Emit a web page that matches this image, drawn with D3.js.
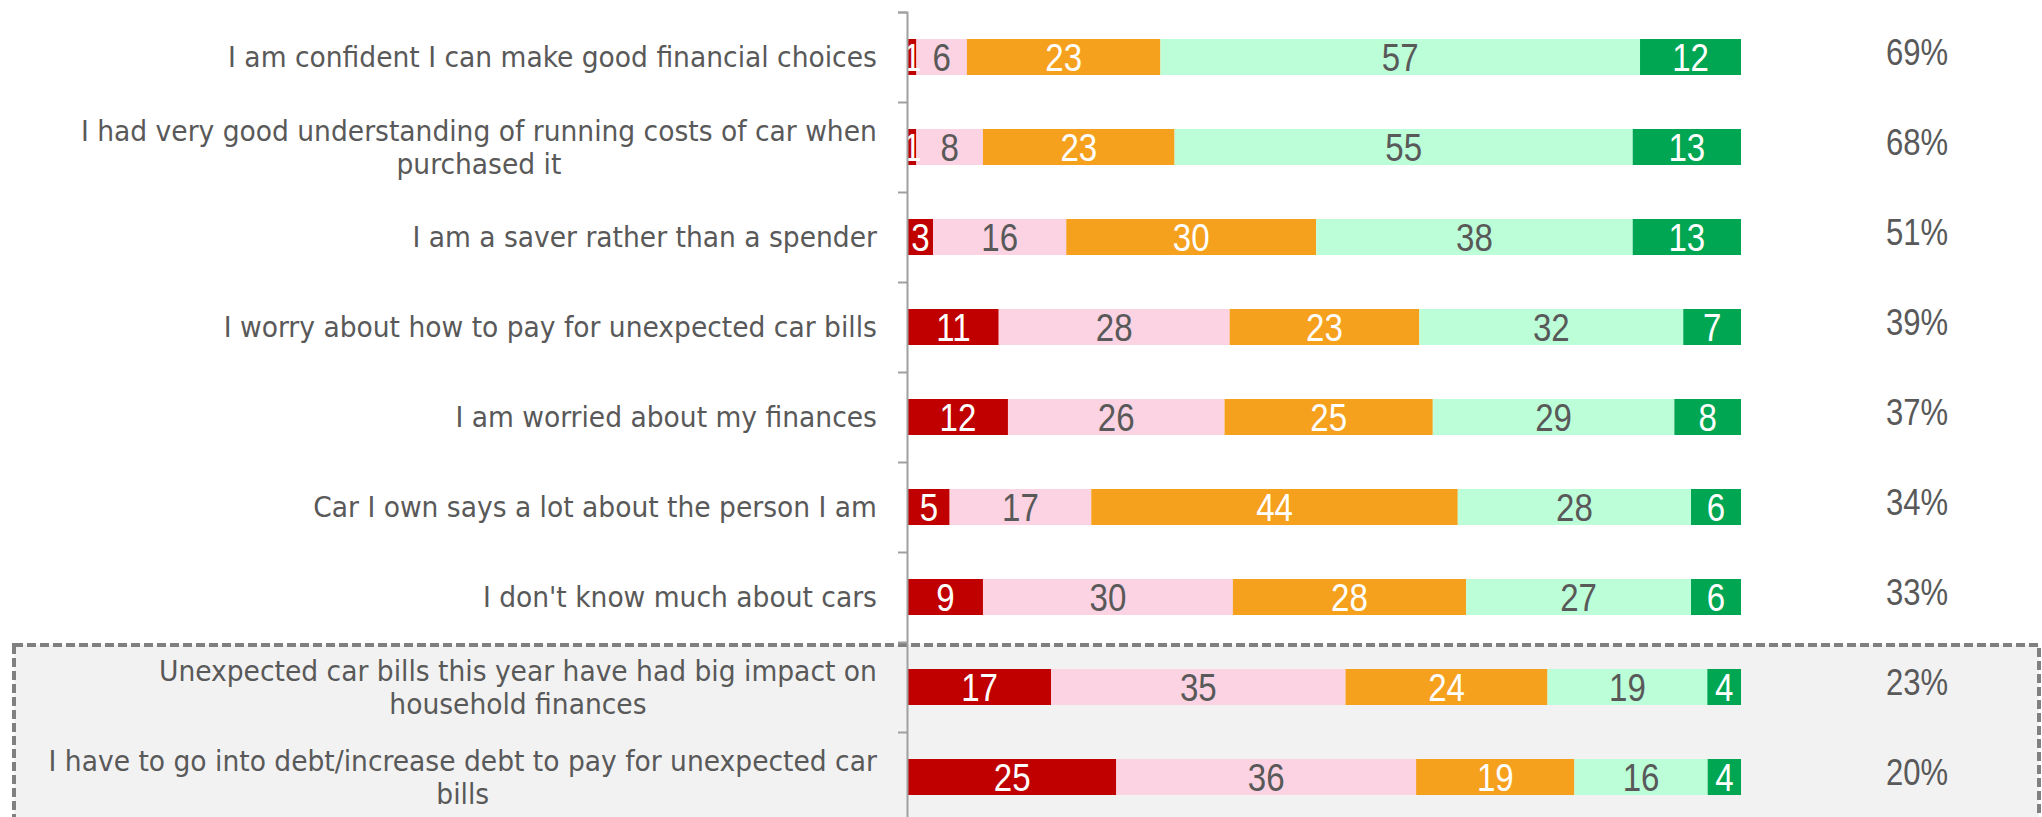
<!DOCTYPE html>
<html><head><meta charset="utf-8">
<script src="https://cdn.jsdelivr.net/npm/d3@7"></script>
<style>html,body{margin:0;padding:0;background:#fff;overflow:hidden}</style>
</head><body>
<svg id="chart" width="2042" height="817"></svg>
<script>
const categories = [
  "I am confident I can make good financial choices",
  "I had very good understanding of running costs of car when|purchased it",
  "I am a saver rather than a spender",
  "I worry about how to pay for unexpected car bills",
  "I am worried about my finances",
  "Car I own says a lot about the person I am",
  "I don't know much about cars",
  "Unexpected car bills this year have had big impact on|household finances",
  "I have to go into debt/increase debt to pay for unexpected car|bills"
];
const seriesNames = ["Strongly disagree","Disagree","Neutral","Agree","Strongly agree"];
const stronglyDisagree = [1, 1, 3, 11, 12, 5, 9, 17, 25];
const disagree        = [6, 8, 16, 28, 26, 17, 30, 35, 36];
const neutral         = [23, 23, 30, 23, 25, 44, 28, 24, 19];
const agree           = [57, 55, 38, 32, 29, 28, 27, 19, 16];
const stronglyAgree   = [12, 13, 13, 7, 8, 6, 6, 4, 4];
const netAgree        = ["69%","68%","51%","39%","37%","34%","33%","23%","20%"];
const highlighted     = [7, 8];

const colors = ["#C00000","#FBD3E2","#F5A11E","#BCFED8","#00A651"];
const textColors = ["#FFFFFF","#595959","#FFFFFF","#595959","#FFFFFF"];
const series = [stronglyDisagree, disagree, neutral, agree, stronglyAgree];

const svg = d3.select("#chart");
const grey = "#595959";
const labelFont = "'DejaVu Sans Condensed', 'DejaVu Sans', sans-serif";
const numFont = "'Liberation Sans', Arial, sans-serif";

const y = d3.scaleBand().domain(d3.range(categories.length))
  .range([12, 12 + 90 * categories.length]).paddingInner(0.6).paddingOuter(0.3);
const x = d3.scaleLinear().domain([0, 100]).range([908, 1741]);
const axisX = 907;

// highlight box
const step = y.step();
const boxTop = y(highlighted[0]) - y.paddingOuter() * step + 3;
svg.append("rect")
  .attr("x", 14).attr("y", boxTop)
  .attr("width", 2039 - 14).attr("height", 300)
  .attr("fill", "#F2F2F2").attr("stroke", "#808080")
  .attr("stroke-width", 4).attr("stroke-dasharray", "9,4");

// rows
const rows = categories.map((c, i) => {
  const vals = series.map(s => s[i]);
  const total = d3.sum(vals);
  let acc = 0;
  return vals.map((v, k) => {
    const p = v / total * 100;
    const seg = {row: i, k, v, x0: acc, x1: acc + p};
    acc += p;
    return seg;
  });
}).flat();

svg.append("g").selectAll("rect").data(rows).join("rect")
  .attr("x", d => x(d.x0)).attr("y", d => y(d.row))
  .attr("width", d => x(d.x1) - x(d.x0)).attr("height", y.bandwidth())
  .attr("fill", d => colors[d.k]);

const numSx = 0.87;
svg.append("g").selectAll("text").data(rows).join("text")
  .attr("transform", d => `translate(${(x(d.x0) + x(d.x1)) / 2},${y(d.row) + y.bandwidth() / 2}) scale(${numSx},1)`)
  .attr("dy", "0.36em")
  .attr("text-anchor", "middle")
  .attr("font-family", numFont).attr("font-size", 38)
  .attr("fill", d => textColors[d.k])
  .text(d => d.v);

// axis
const axisScale = d3.scaleLinear().domain([0, categories.length]).range([12, 12 + 90 * categories.length]);
const axis = d3.axisLeft(axisScale).ticks(categories.length).tickSize(9).tickFormat("");
const ag = svg.append("g").attr("transform", `translate(${axisX},0)`).call(axis);
ag.select(".domain").attr("stroke", "#A0A0A0").attr("stroke-width", 2);
ag.selectAll(".tick line").attr("stroke", "#A0A0A0").attr("stroke-width", 2);

// category labels (horizontally condensed to match the reference face)
const fontSize = 29, lineH = 33;
const lg = svg.append("g");
const labelGroups = lg.selectAll("g").data(categories).join("g");
const labels = labelGroups.append("text")
  .attr("text-anchor", "middle")
  .attr("font-family", labelFont)
  .attr("fill", grey)
  .attr("font-size", fontSize);
labels.each(function(c, i) {
  const lines = c.split("|");
  const t = d3.select(this);
  const cy = y(i) + y.bandwidth() / 2;
  lines.forEach((ln, j) => {
    t.append("tspan").text(ln).attr("x", 0)
      .attr("y", cy + (j - (lines.length - 1) / 2) * lineH)
      .attr("dy", "0.35em");
  });
});
const w0 = labels.node().getComputedTextLength();
const sx = 649 / w0;
labelGroups.each(function() {
  const g = d3.select(this);
  let maxW = 0;
  g.selectAll("tspan").each(function() { maxW = Math.max(maxW, this.getComputedTextLength()); });
  const cx = 877 - maxW * sx / 2;
  g.attr("transform", `translate(${cx},0) scale(${sx},1)`);
});

// net agree
svg.append("g").selectAll("text").data(netAgree).join("text")
  .attr("transform", (d, i) => `translate(1917,${y(i) + y.bandwidth() / 2 - 5}) scale(0.84,1)`)
  .attr("dy", "0.36em").attr("text-anchor", "middle")
  .attr("font-family", numFont).attr("font-size", 37)
  .attr("fill", grey).text(d => d);
</script>
</body></html>
